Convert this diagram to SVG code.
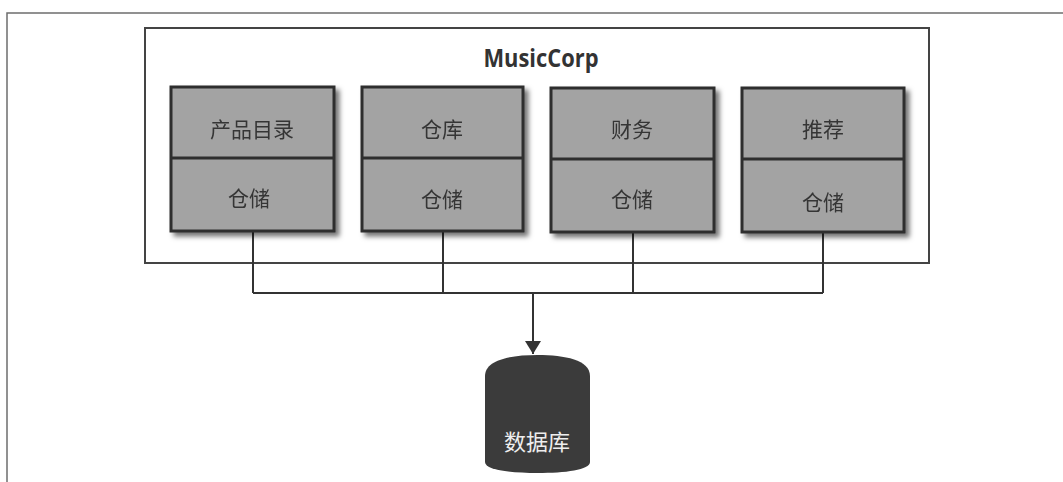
<svg xmlns="http://www.w3.org/2000/svg" width="1063" height="482" viewBox="0 0 1063 482">
<defs>
<style>
.frame{fill:none;stroke:#6e6e6e;stroke-width:1.5}
.box{fill:none;stroke:#444;stroke-width:2}
.node{fill:#a3a3a3;stroke:#2e2e2e;stroke-width:3}
.lbl{font-family:"Noto Sans CJK SC","Noto Sans CJK JP",sans-serif;font-size:21px;fill:#363636;text-anchor:middle;dominant-baseline:central}
.conn{fill:none;stroke:#333;stroke-width:2}
.title{font-family:"Open Sans","Liberation Sans",sans-serif;font-weight:bold;font-size:25px;fill:#333;text-anchor:middle}
.dbl{font-family:"Noto Sans CJK SC","Noto Sans CJK JP",sans-serif;font-size:22px;fill:#eee;text-anchor:middle;dominant-baseline:central}
</style>
<filter id="sh" x="-10%" y="-10%" width="130%" height="130%">
<feGaussianBlur in="SourceAlpha" stdDeviation="2.5"/>
<feOffset dx="4" dy="4" result="b"/>
<feFlood flood-color="#000" flood-opacity="0.55"/>
<feComposite in2="b" operator="in" result="s"/>
<feMerge><feMergeNode in="s"/><feMergeNode in="SourceGraphic"/></feMerge>
</filter>
<marker id="arr" markerWidth="14" markerHeight="18" refX="13" refY="9" orient="auto" markerUnits="userSpaceOnUse">
<path d="M0,1 L13,9 L0,17 Z" fill="#333"/>
</marker>
</defs>
<rect width="1063" height="482" fill="#fff"/>
<path class="frame" d="M7,482 L7,13 L1063,13"/>
<g id="musiccorp">
<rect class="box" x="145" y="28" width="784" height="235"/>
<text class="title" x="541" y="67" textLength="115" lengthAdjust="spacingAndGlyphs">MusicCorp</text>
</g>
<g id="connectors">
<path class="conn" d="M253,232 L253,293 M443,232 L443,293 M633,232 L633,293 M823,232 L823,293 M253,293 L823,293"/>
<path class="conn" d="M533,293 L533,354" marker-end="url(#arr)"/>
</g>
<g id="node-catalog" filter="url(#sh)">
<rect class="node" x="171" y="87" width="163" height="144"/>
<line class="node" x1="171" y1="158" x2="334" y2="158"/>
<text class="lbl" x="252" y="128">产品目录</text>
<text class="lbl" x="249" y="197">仓储</text>
</g>
<g id="node-warehouse" filter="url(#sh)">
<rect class="node" x="362" y="87" width="161" height="144"/>
<line class="node" x1="362" y1="158" x2="523" y2="158"/>
<text class="lbl" x="442" y="128">仓库</text>
<text class="lbl" x="442" y="198">仓储</text>
</g>
<g id="node-finance" filter="url(#sh)">
<rect class="node" x="551" y="88" width="163" height="144"/>
<line class="node" x1="551" y1="159" x2="714" y2="159"/>
<text class="lbl" x="632" y="128">财务</text>
<text class="lbl" x="632" y="198">仓储</text>
</g>
<g id="node-recommend" filter="url(#sh)">
<rect class="node" x="742" y="88" width="162" height="144"/>
<line class="node" x1="742" y1="159" x2="904" y2="159"/>
<text class="lbl" x="823" y="128">推荐</text>
<text class="lbl" x="823" y="201">仓储</text>
</g>
<g id="database">
<path d="M485,376 C485,360 510,355 537.5,355 C565,355 590,360 590,376 L590,462 C590,470 565,473 537.5,473 C510,473 485,470 485,462 Z" fill="#3b3b3b"/>
<text class="dbl" x="537" y="440">数据库</text>
</g>
</svg>
